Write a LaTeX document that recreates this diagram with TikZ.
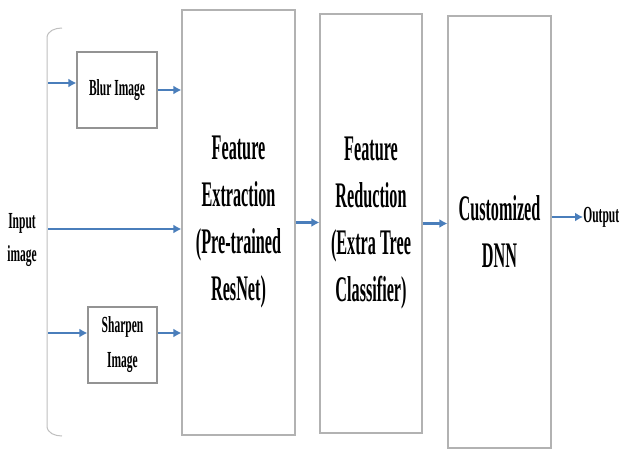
\documentclass[tikz,border=0pt]{standalone}
\usepackage{fontspec}
\setmainfont{Liberation Serif}[FakeStretch=0.5]
\newfontfamily\stagefont{Liberation Serif}[FakeStretch=0.45]
\usetikzlibrary{arrows.meta, positioning}
\definecolor{flowblue}{RGB}{74,126,187}

\begin{document}
\begin{tikzpicture}[x=0.5pt, y=-0.5pt,
    stage/.style={draw=gray!60, line width=0.6pt, inner sep=0pt, align=center,
        font=\stagefont\fontsize{18}{23.5}\selectfont\bfseries},
    prep/.style={draw=gray!85, line width=0.6pt, inner sep=0pt, align=center,
        minimum width=40pt, minimum height=38pt,
        font=\fontsize{11.5}{17.5}\selectfont\bfseries},
    lbl/.style={inner sep=0pt, align=center, font=\fontsize{11.5}{16.5}\selectfont\bfseries},
    flow/.style={flowblue, line width=1.4pt, -{Latex[length=4pt, width=4.5pt]}}]

    \useasboundingbox (0,0) rectangle (627,450);

    % --- Input ---
    \node[lbl] (input) at (22,240) {Input\\image};
    \draw[gray!50, line width=0.5pt] (62,28) to[out=180, in=90] (47,38) -- (47,426) to[out=-90, in=180] (62,436);
    \coordinate (in1) at (48,83);
    \coordinate (in2) at (48,229);
    \coordinate (in3) at (48,333);

    % --- Pre-processing ---
    \node[prep] (blur) at (117,90) {Blur Image};
    \node[prep, minimum width=34.5pt] (sharp) at (122.5,345) {Sharpen\\Image};

    % --- Pipeline stages ---
    \node[stage, minimum width=56.5pt, minimum height=212.5pt] (fe) at (238.5,222.5)
        {Feature\\Extraction\\(Pre-trained\\ResNet)};
    \node[stage, minimum width=51pt, minimum height=209.5pt] (fr) at (371,223.5)
        {Feature\\Reduction\\(Extra Tree\\Classifier)};
    \node[stage, minimum width=51.5pt, minimum height=216pt] (dnn) at (499.5,232)
        {Customized\\DNN};
    \node[lbl, anchor=west] (out) at (583,217) {Output};

    % --- Connections ---
    \draw[flow] (in1) -- (in1 -| blur.west);
    \draw[flow] (blur.east) -- (blur.east -| fe.west);
    \draw[flow] (in2) -- (in2 -| fe.west);
    \draw[flow] (in3) -- (in3 -| sharp.west);
    \draw[flow] (in3 -| sharp.east) -- (in3 -| fe.west);
    \draw[flow] (fe.east) -- (fe.east -| fr.west);
    \draw[flow] (fr.east) -- (fr.east -| dnn.west);
    \draw[flow] (dnn.east |- out.west) -- (out.west);

\end{tikzpicture}
\end{document}
